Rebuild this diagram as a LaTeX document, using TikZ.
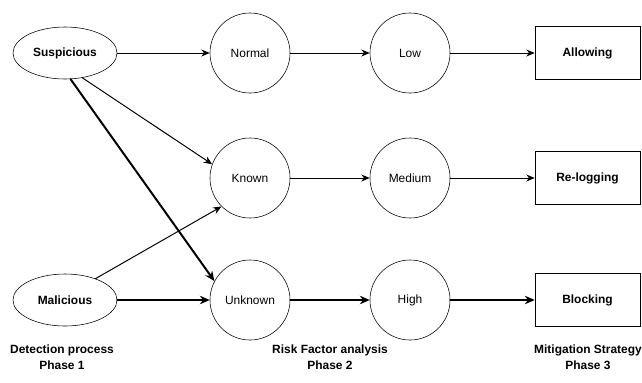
\documentclass[tikz,border=0pt]{standalone}
\usepackage{fontspec}
\setmainfont{Liberation Sans}
\usetikzlibrary{arrows.meta, shapes.geometric}

\begin{document}
\begin{tikzpicture}[x=0.025cm, y=-0.025cm, style={line cap = round},
		every node/.style={font=\fontsize{8.5}{10.5}\selectfont},
		source/.style={draw, ellipse, thin, minimum width=2.6cm, minimum height=1.3cm, inner sep=0pt, font=\fontsize{8.5}{10.5}\selectfont\bfseries},
		factor/.style={draw, circle, thin, minimum size=2cm, inner sep=0pt},
		action/.style={draw, rectangle, thin, minimum width=2.625cm, minimum height=1.325cm, font=\fontsize{8.5}{10.5}\selectfont\bfseries},
		phase/.style={align=center, font=\fontsize{8.5}{11.5}\selectfont\bfseries},
		lnk/.style={line width=0.7pt, -{Stealth[length=6pt, width=5pt]}},
		lnkbold/.style={line width=1.4pt, -{Stealth[length=7pt, width=6pt]}}]
	\useasboundingbox (0,0) rectangle (642,382);
	% phase 1
	\node[source] (susp) at (65,53) {Suspicious};
	\node[source] (mal) at (65,300) {Malicious};
	% phase 2
	\node[factor] (normal) at (250,53) {Normal};
	\node[factor] (known) at (250,178) {Known};
	\node[factor] (unknown) at (250,300) {Unknown};
	\node[factor] (low) at (410,53) {Low};
	\node[factor] (medium) at (410,178) {Medium};
	\node[factor] (high) at (410,300) {High};
	% phase 3
	\node[action] (allow) at (587.5,53) {Allowing};
	\node[action] (relog) at (587.5,178) {Re-logging};
	\node[action] (block) at (587.5,300) {Blocking};
	% captions
	\node[phase] (ph1) at (62,357) {Detection process\\Phase 1};
	\node[phase] (ph2) at (330,357) {Risk Factor analysis\\Phase 2};
	\node[phase] (ph3) at (588,357) {Mitigation Strategy\\Phase 3};
	% links
	\draw[lnk] (susp) -- (normal);
	\draw[lnk] (susp.-55) -- (known.160);
	\draw[lnkbold] (susp.-78) -- (unknown.152);
	\draw[lnk] (mal.35) -- (known.-135);
	\draw[lnkbold] (mal) -- (unknown);
	\draw[lnk] (normal) -- (low);
	\draw[lnk] (low) -- (allow);
	\draw[lnk] (known) -- (medium);
	\draw[lnk] (medium) -- (relog);
	\draw[lnkbold] (unknown) -- (high);
	\draw[lnkbold] (high) -- (block);
\end{tikzpicture}
\end{document}
